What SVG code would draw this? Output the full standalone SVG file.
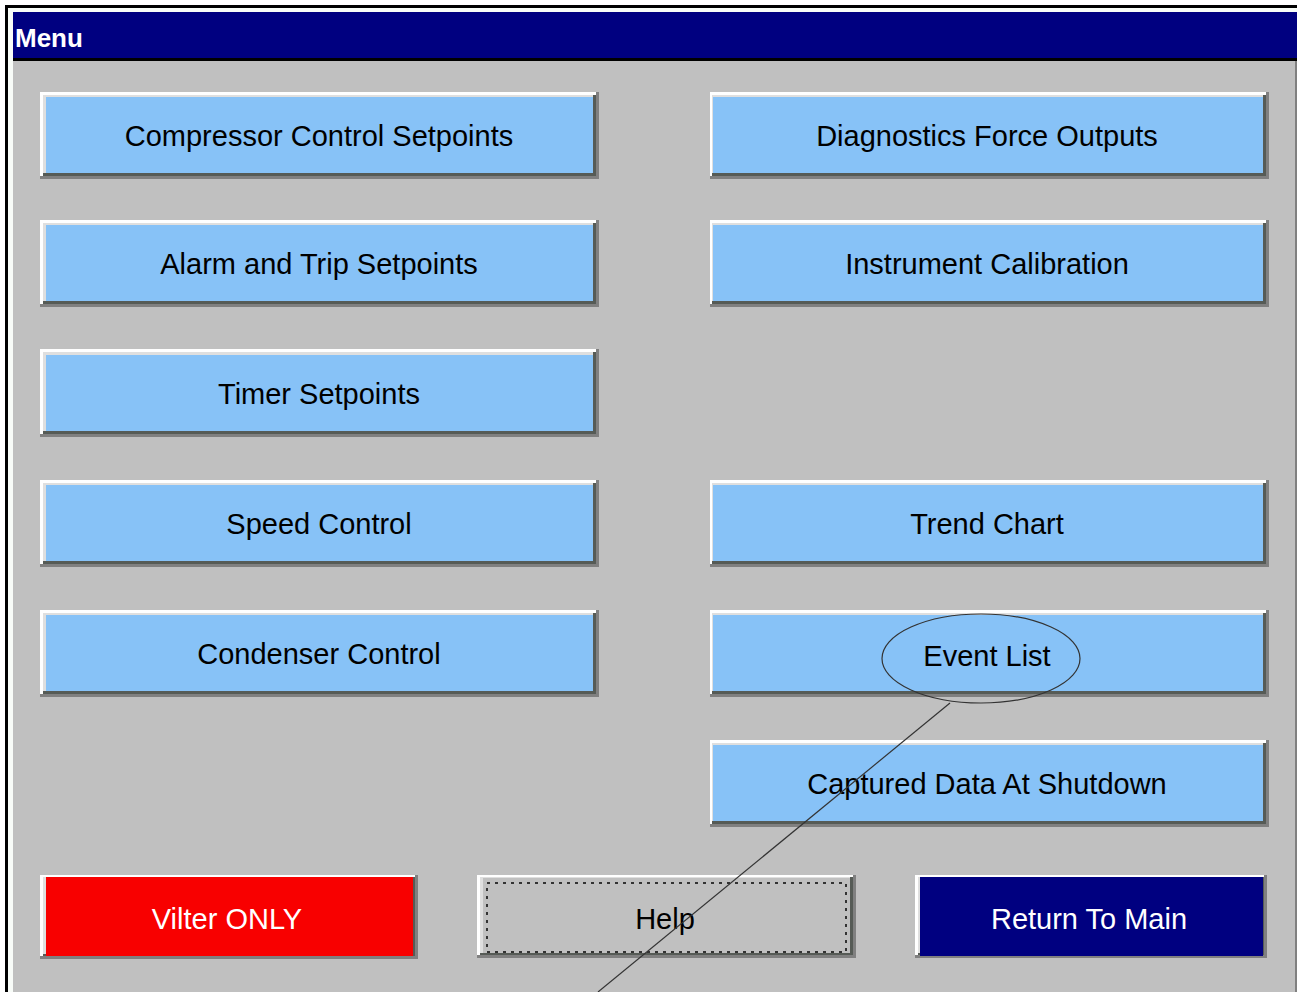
<svg xmlns="http://www.w3.org/2000/svg" width="1297" height="992" viewBox="0 0 1297 992">
<defs>
<style>
.bg{fill:#c0c0c0}
.sh{fill:#808080}
.hl{fill:#ffffff}
.dk{fill:#565b56}
.lt{fill:#dfdfdf}
.blue{fill:#87c2f7}
.red{fill:#f80000}
.navy{fill:#000080}
.gray{fill:#c0c0c0}
.lbl{font-family:"Liberation Sans",Arial,sans-serif;font-size:29px;text-anchor:middle;fill:#000}
.wlbl{font-family:"Liberation Sans",Arial,sans-serif;font-size:29px;text-anchor:middle;fill:#fff}
.title{font-family:"Liberation Sans",Arial,sans-serif;font-size:26px;font-weight:bold;fill:#fff}
.conn{fill:none;stroke:#333;stroke-width:1.2}
</style>
</defs>
<rect x="0" y="0" width="1297" height="992" fill="#ffffff"/>
<rect x="5" y="5" width="1292" height="987" fill="#000"/>
<rect x="8" y="8" width="1289" height="984" fill="#f8fcf8"/>
<rect x="13" y="61" width="1284" height="931" class="bg"/>
<rect x="1295" y="61" width="2" height="931" fill="#808080"/>
<g id="titlebar">
<rect x="13" y="12" width="1284" height="46" class="navy"/>
<rect x="13" y="58" width="1284" height="3" fill="#000"/>
<text x="15" y="47" class="title">Menu</text>
</g>

<g id="btn-compressor">
<rect x="40" y="92" width="559" height="87" class="sh"/><rect x="40" y="92" width="556" height="84" class="hl"/><rect x="43" y="95" width="553" height="81" class="dk"/><rect x="43" y="95" width="550" height="78" class="lt"/><rect x="46" y="97" width="547" height="76" class="blue"/>
<text x="319" y="146" class="lbl">Compressor Control Setpoints</text>
</g>
<g id="btn-alarm">
<rect x="40" y="220" width="559" height="87" class="sh"/><rect x="40" y="220" width="556" height="84" class="hl"/><rect x="43" y="223" width="553" height="81" class="dk"/><rect x="43" y="223" width="550" height="78" class="lt"/><rect x="46" y="225" width="547" height="76" class="blue"/>
<text x="319" y="274" class="lbl">Alarm and Trip Setpoints</text>
</g>
<g id="btn-timer">
<rect x="40" y="349" width="559" height="88" class="sh"/><rect x="40" y="349" width="556" height="85" class="hl"/><rect x="43" y="352" width="553" height="82" class="dk"/><rect x="43" y="352" width="550" height="79" class="lt"/><rect x="46" y="355" width="547" height="76" class="blue"/>
<text x="319" y="404" class="lbl">Timer Setpoints</text>
</g>
<g id="btn-speed">
<rect x="40" y="480" width="559" height="87" class="sh"/><rect x="40" y="480" width="556" height="84" class="hl"/><rect x="43" y="483" width="553" height="81" class="dk"/><rect x="43" y="483" width="550" height="78" class="lt"/><rect x="46" y="485" width="547" height="76" class="blue"/>
<text x="319" y="534" class="lbl">Speed Control</text>
</g>
<g id="btn-condenser">
<rect x="40" y="610" width="559" height="87" class="sh"/><rect x="40" y="610" width="556" height="84" class="hl"/><rect x="43" y="613" width="553" height="81" class="dk"/><rect x="43" y="613" width="550" height="78" class="lt"/><rect x="46" y="615" width="547" height="76" class="blue"/>
<text x="319" y="664" class="lbl">Condenser Control</text>
</g>

<g id="btn-diagnostics">
<rect x="710" y="92" width="559" height="87" class="sh"/><rect x="710" y="92" width="556" height="84" class="hl"/><rect x="712" y="95" width="554" height="81" class="dk"/><rect x="712" y="95" width="551" height="78" class="lt"/><rect x="713" y="97" width="550" height="76" class="blue"/>
<text x="987" y="146" class="lbl">Diagnostics Force Outputs</text>
</g>
<g id="btn-instrument">
<rect x="710" y="220" width="559" height="87" class="sh"/><rect x="710" y="220" width="556" height="84" class="hl"/><rect x="712" y="223" width="554" height="81" class="dk"/><rect x="712" y="223" width="551" height="78" class="lt"/><rect x="713" y="225" width="550" height="76" class="blue"/>
<text x="987" y="274" class="lbl">Instrument Calibration</text>
</g>
<g id="btn-trend">
<rect x="710" y="480" width="559" height="87" class="sh"/><rect x="710" y="480" width="556" height="84" class="hl"/><rect x="712" y="483" width="554" height="81" class="dk"/><rect x="712" y="483" width="551" height="78" class="lt"/><rect x="713" y="485" width="550" height="76" class="blue"/>
<text x="987" y="534" class="lbl">Trend Chart</text>
</g>
<g id="btn-event">
<rect x="710" y="610" width="559" height="87" class="sh"/><rect x="710" y="610" width="556" height="84" class="hl"/><rect x="712" y="613" width="554" height="81" class="dk"/><rect x="712" y="613" width="551" height="78" class="lt"/><rect x="713" y="615" width="550" height="76" class="blue"/>
<text x="987" y="666" class="lbl">Event List</text>
</g>
<g id="btn-captured">
<rect x="710" y="740" width="559" height="87" class="sh"/><rect x="710" y="740" width="556" height="84" class="hl"/><rect x="712" y="743" width="554" height="81" class="dk"/><rect x="712" y="743" width="551" height="78" class="lt"/><rect x="713" y="745" width="550" height="76" class="blue"/>
<text x="987" y="794" class="lbl">Captured Data At Shutdown</text>
</g>

<g id="btn-vilter">
<rect x="40" y="875" width="378" height="84" class="sh"/><rect x="40" y="875" width="375" height="81" class="hl"/><rect x="43" y="877" width="372" height="79" class="dk"/><rect x="43" y="877" width="370" height="77" class="lt"/><rect x="46" y="877" width="367" height="79" class="red"/>
<text x="227" y="929" class="wlbl">Vilter ONLY</text>
</g>
<g id="btn-help">
<rect x="477" y="875" width="379" height="83" class="sh"/><rect x="477" y="875" width="376" height="80" class="hl"/><rect x="480" y="877" width="373" height="78" class="dk"/><rect x="480" y="877" width="370" height="76" class="lt"/><rect x="483" y="878" width="367" height="75" class="gray"/>
<rect x="487" y="883" width="359" height="69" fill="none" stroke="#333" stroke-width="2" stroke-dasharray="3 5"/>
<text x="665" y="929" class="lbl">Help</text>
</g>
<g id="btn-return">
<rect x="915" y="875" width="352" height="83" class="sh"/><rect x="915" y="875" width="349" height="80" class="hl"/><rect x="918" y="877" width="346" height="78" class="dk"/><rect x="918" y="877" width="343" height="76" class="lt"/><rect x="920" y="877" width="343" height="79" class="navy"/>
<text x="1089" y="929" class="wlbl">Return To Main</text>
</g>

<g id="connectors">
<ellipse cx="981" cy="658.5" rx="99" ry="44.5" class="conn"/>
<line x1="950" y1="703" x2="598" y2="992" class="conn"/>
</g>
</svg>
